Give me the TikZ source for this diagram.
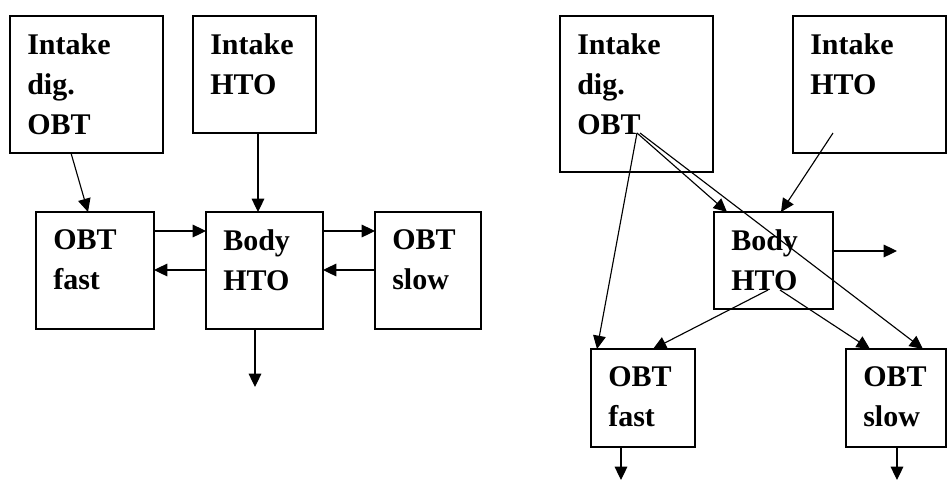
\documentclass[tikz,border=0pt]{standalone}
\usepackage{fontspec}
\setmainfont{Liberation Serif}
\usetikzlibrary{calc,arrows.meta}
\begin{document}
\begin{tikzpicture}[x=0.75pt,y=-0.75pt,
  box/.style 2 args={draw,line width=1pt,outer sep=0pt,inner sep=0pt,anchor=north west,
     minimum width=#1*0.75pt,minimum height=#2*0.75pt},
  lab/.style={anchor=north west,inner sep=0pt,align=left,xshift=17*0.75pt,yshift=-17*0.75pt,
     font=\fontsize{22.5pt}{30pt}\selectfont\bfseries},
  arr/.style={line width=0.85pt,-{Triangle[length=10pt,width=9.5pt]}}]
\useasboundingbox (0,0) rectangle (947,480);
% left panel
\node[box={153}{137},label={[lab]north west:Intake\\dig.\\OBT}] (a1) at (10,16) {};
\node[box={123}{117},label={[lab]north west:Intake\\HTO}] (h1) at (193,16) {};
\node[box={118}{117},label={[lab]north west:OBT\\fast}] (f1) at (36,212) {};
\node[box={117}{117},label={[lab]north west:Body\\HTO}] (b1) at (206,212) {};
\node[box={106}{117},label={[lab]north west:OBT\\slow}] (s1) at (375,212) {};
\coordinate (e1) at (255,387);
\draw[arr] ($(a1.south west)+(61,0)$) -- ($(f1.north west)+(52,0)$);
\draw[arr] ($(h1.south west)+(65,0)$) -- ($(b1.north west)+(52,0)$);
\draw[arr] ($(f1.north east)+(0,19)$) -- ($(b1.north west)+(0,19)$);
\draw[arr] ($(b1.north west)+(0,58)$) -- ($(f1.north east)+(0,58)$);
\draw[arr] ($(b1.north east)+(0,19)$) -- ($(s1.north west)+(0,19)$);
\draw[arr] ($(s1.north west)+(0,58)$) -- ($(b1.north east)+(0,58)$);
\draw[arr] ($(b1.south west)+(49,0)$) -- (e1);
% right panel
\node[box={153}{156},label={[lab]north west:Intake\\dig.\\OBT}] (a2) at (560,16) {};
\node[box={153}{137},label={[lab]north west:Intake\\HTO}] (h2) at (793,16) {};
\node[box={119}{97},label={[lab]north west:Body\\HTO}] (b2) at (714,212) {};
\node[box={104}{98},label={[lab]north west:OBT\\fast}] (f2) at (591,349) {};
\node[box={100}{98},label={[lab]north west:OBT\\slow}] (s2) at (846,349) {};
\coordinate (e2) at (897,251);
\coordinate (e3) at (621,480);
\coordinate (e4) at (897,480);
\draw[arr] ($(b2.north east)+(0,39)$) -- (e2);
\draw[arr] ($(h2.north west)+(40,117)$) -- ($(b2.north west)+(67,0)$);
\draw[arr] ($(a2.north west)+(77,117)$) -- ($(f2.north west)+(6,0)$);
\draw[arr] ($(a2.north west)+(77,117)$) -- ($(b2.north west)+(13,0)$);
\draw[arr] ($(a2.north west)+(80,117)$) -- ($(s2.north west)+(77,0)$);
\draw[arr] ($(b2.north west)+(54,78)$) -- ($(f2.north west)+(62,0)$);
\draw[arr] ($(b2.north west)+(66,78)$) -- ($(s2.north west)+(24,0)$);
\draw[arr] ($(f2.south west)+(30,0)$) -- (e3);
\draw[arr] ($(s2.south west)+(51,0)$) -- (e4);
\end{tikzpicture}
\end{document}
